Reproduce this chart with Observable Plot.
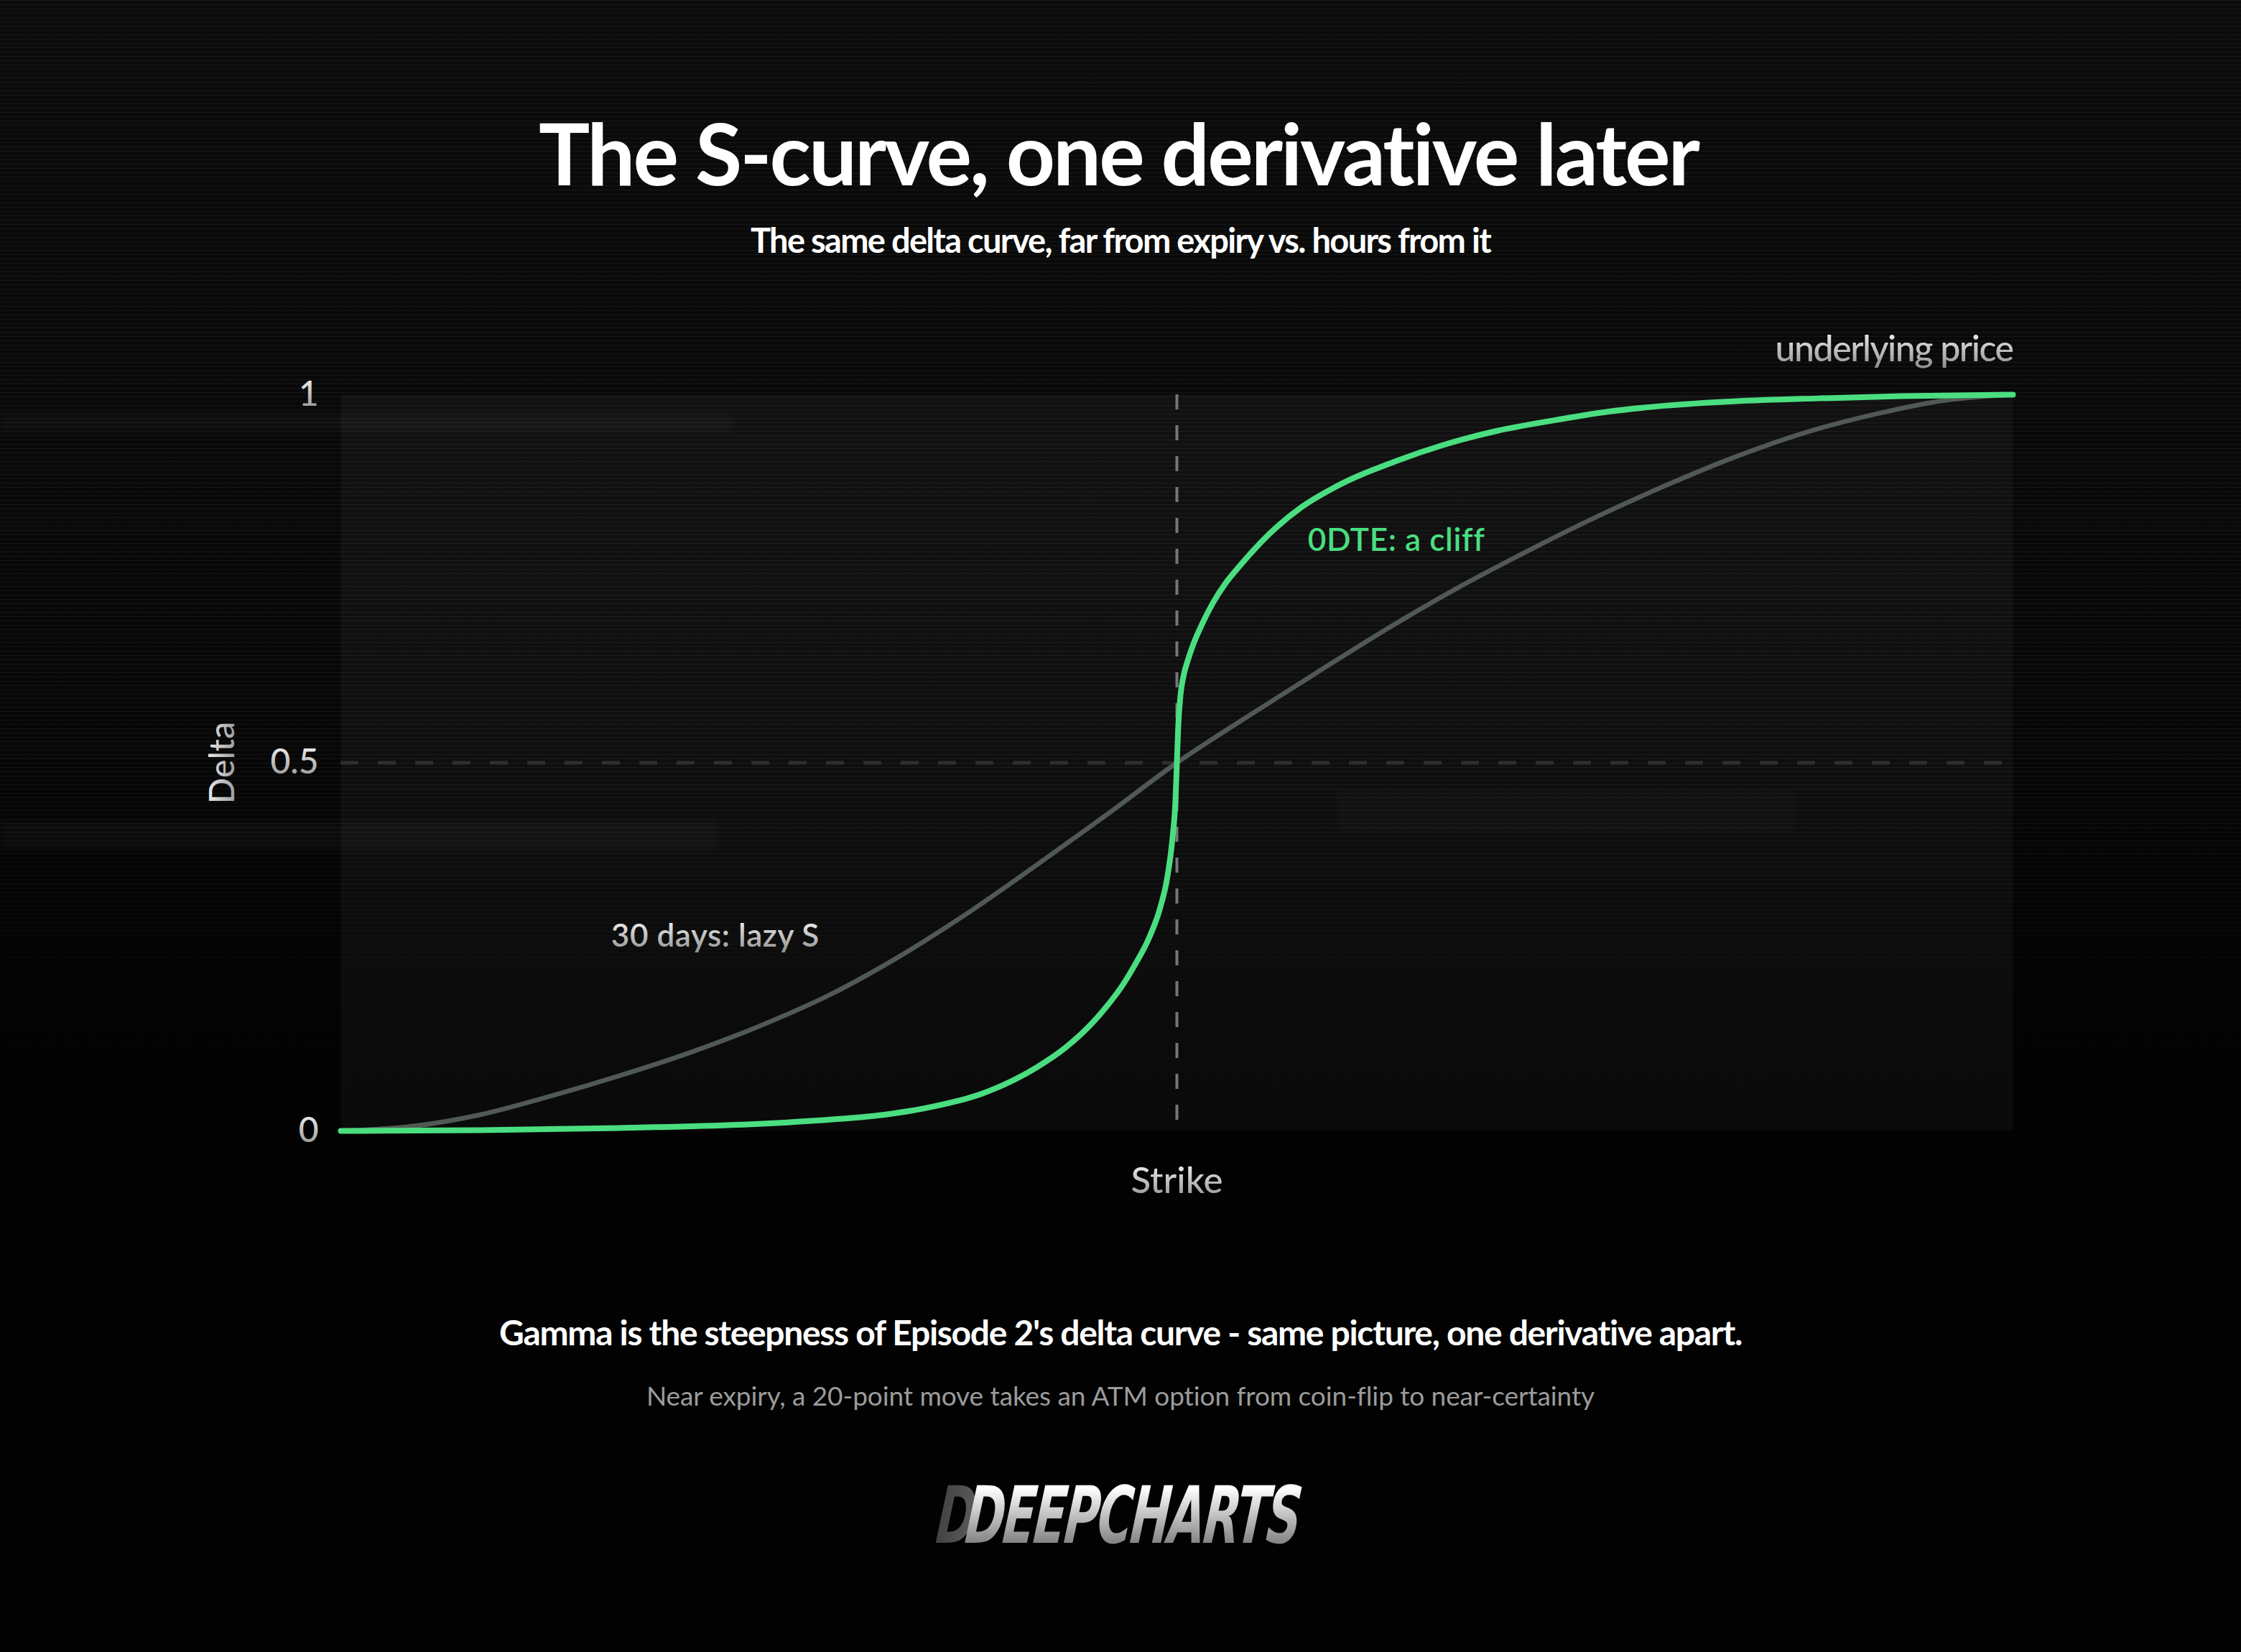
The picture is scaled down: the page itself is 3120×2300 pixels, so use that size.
<!DOCTYPE html>
<html>
<head>
<meta charset="utf-8">
<script src="https://cdn.jsdelivr.net/npm/d3@7"></script>
<script src="https://cdn.jsdelivr.net/npm/@observablehq/plot@0.6"></script>
<style>
html, body { margin:0; padding:0; background:#020202; }
body { width:3120px; height:2300px; position:relative; overflow:hidden; font-family: Lato, "Noto Sans", sans-serif; }
#bgtop { position:absolute; left:0; top:0; width:3120px; height:1600px;
  background: linear-gradient(to bottom, #0b0b0b 0%, #080808 55%, #020202 100%); }
#scan { position:absolute; left:0; top:0; width:3120px; height:1600px;
  background: repeating-linear-gradient(to bottom, rgba(255,255,255,0.055) 0px, rgba(255,255,255,0.055) 1px, rgba(0,0,0,0) 1px, rgba(0,0,0,0) 6px);
  -webkit-mask-image: linear-gradient(to bottom, #000 0%, #000 68%, rgba(0,0,0,0) 92%);
  mask-image: linear-gradient(to bottom, #000 0%, #000 68%, rgba(0,0,0,0) 92%); }
.ghost { position:absolute; filter: blur(5px); background: rgba(255,255,255,0.028); }
#chart { position:absolute; left:0; top:420px; }
.line { position:absolute; white-space:nowrap; display:inline-block; line-height:1; }
.base { display:inline-block; width:0; height:0; vertical-align:baseline; }
</style>
</head>
<body>
<div id="bgtop"></div>
<div id="scan"></div>
<div class="ghost" style="left:0;top:1142px;width:1000px;height:42px;"></div>
<div class="ghost" style="left:0;top:575px;width:1020px;height:26px;"></div>
<div class="ghost" style="left:1860px;top:1100px;width:640px;height:60px;background:rgba(255,255,255,0.018);"></div>
<div id="chart"></div>
<div id="texts"></div>
<script>
// ---------- data ----------
// price relative to the strike (points) and the option delta
const price30 = [-60,-55,-50,-45,-40,-35,-30,-25,-20,-15,-10,-5,0,5,10,15,20,25,30,35,40,45,50,55,60];
const delta30 = [0,0.006,0.022,0.047,0.075,0.106,0.142,0.184,0.236,0.296,0.362,0.43,0.5,0.562,0.622,0.681,0.736,0.786,0.833,0.876,0.915,0.948,0.973,0.992,1];
const price0 = [-60,-50,-40,-32,-26,-21,-17.5,-13.5,-10,-8,-6,-5,-4,-3,-2,-1.2,-0.7,-0.33,-0.1,0,0.1,0.26,0.5,0.8,1.2,1.8,2.55,3.5,4.4,6.7,9,11.3,15.9,19,23,27,31,35,40,46,52,60];
const delta0 = [0,0.001,0.004,0.008,0.014,0.022,0.033,0.054,0.087,0.113,0.148,0.17,0.195,0.226,0.262,0.303,0.343,0.395,0.45,0.5,0.55,0.592,0.62,0.64,0.662,0.688,0.716,0.744,0.765,0.812,0.848,0.874,0.911,0.931,0.951,0.965,0.977,0.985,0.991,0.995,0.998,1];
const deltaTicks = [0, 0.5, 1];
const strikeTick = [0];
const strikeLabel = "Strike";
const yLabel = "Delta";
const xLabel = "underlying price";
const seriesLabels = ["30 days: lazy S", "0DTE: a cliff"];
const seriesLabelPrice = [-40.6, 9.4];
const seriesLabelDelta = [0.264, 0.802];
const titleText = "The S-curve, one derivative later";
const subtitleText = "The same delta curve, far from expiry vs. hours from it";
const captionText = "Gamma is the steepness of Episode 2's delta curve - same picture, one derivative apart.";
const noteText = "Near expiry, a 20-point move takes an ATM option from coin-flip to near-certainty";
const logoText = "DEEPCHARTS";

// ---------- build ----------
const curve30 = price30.map((x, i) => ({x, delta: delta30[i]}));
const curve0 = price0.map((x, i) => ({x, delta: delta0[i]}));
const GREEN = "#4ade80", GRAY = "#515955";

const chart = Plot.plot({
  width: 3120, height: 1300,
  marginLeft: 474, marginRight: 318, marginTop: 129, marginBottom: 146,
  style: {background: "transparent", color: "#e0e0e0", fontFamily: "Lato, 'Noto Sans', sans-serif", overflow: "visible"},
  x: {domain: [-60, 60]},
  y: {domain: [0, 1]},
  marks: [
    Plot.frame({fill: "rgba(255,255,255,0.035)", stroke: "none"}),
    Plot.ruleY([0.5], {stroke: "#2e2e2e", strokeWidth: 5, strokeDasharray: "25,27"}),
    Plot.ruleX(strikeTick, {stroke: "#767676", strokeWidth: 4, strokeDasharray: "21,22"}),
    Plot.line(curve30, {x: "x", y: "delta", stroke: GRAY, strokeWidth: 6.5, curve: "monotone-x"}),
    Plot.line(curve0, {x: "x", y: "delta", stroke: GREEN, strokeWidth: 8, curve: "monotone-x"}),
    Plot.axisY({ticks: deltaTicks, tickSize: 0, tickPadding: 31, fontSize: 48, fontWeight: 500, label: null, fill: "url(#tg)", tickFormat: d => String(d)}),
    Plot.axisX({ticks: strikeTick, tickSize: 0, tickPadding: 50, fontSize: 51, fontWeight: 500, label: null, fill: "url(#tg)", tickFormat: () => strikeLabel}),
    Plot.text([yLabel], {frameAnchor: "left", y: [0.5], text: d => d, dx: -164, rotate: -90, textAnchor: "middle", lineAnchor: "middle", fontSize: 48, fontWeight: 500, fill: "url(#tg)"}),
    Plot.text([xLabel], {x: [60], y: [1], text: d => d, textAnchor: "end", lineAnchor: "bottom", dy: -47, fontSize: 50, fontWeight: 500, fill: "url(#tg)"}),
    Plot.text([seriesLabels[0]], {x: [seriesLabelPrice[0]], y: [seriesLabelDelta[0]], text: d => d, textAnchor: "start", lineAnchor: "middle", fontSize: 44, fontWeight: 600, fill: "url(#tg)"}),
    Plot.text([seriesLabels[1]], {x: [seriesLabelPrice[1]], y: [seriesLabelDelta[1]], text: d => d, textAnchor: "start", lineAnchor: "middle", fontSize: 44, fontWeight: 600, fill: GREEN})
  ]
});
d3.select(chart).insert("defs", ":first-child").html(
  '<linearGradient id="tg" x1="0" y1="0" x2="0" y2="1"><stop offset="0" stop-color="#ffffff"/><stop offset="1" stop-color="#8c8c8c"/></linearGradient>'
);
document.getElementById("chart").appendChild(chart);

// fit svg label widths to the reference
function fitSvg(t, target) {
  t.style.letterSpacing = "0px";
  const w = t.getComputedTextLength();
  const n = t.textContent.length;
  t.style.letterSpacing = ((target - w) / n) + "px";
}
chart.querySelectorAll("text").forEach(t => {
  const s = t.textContent;
  if (s === xLabel) fitSvg(t, 331);
  else if (s === seriesLabels[0]) fitSvg(t, 290);
  else if (s === seriesLabels[1]) fitSvg(t, 245);
});

// ---------- html texts ----------
const holder = document.getElementById("texts");
function addLine(text, cx, base, fs, weight, color, target, minLs) {
  const el = document.createElement("span");
  el.className = "line";
  el.textContent = text;
  const b = document.createElement("i");
  b.className = "base";
  el.appendChild(b);
  el.style.fontSize = fs + "px";
  el.style.fontWeight = weight;
  el.style.color = color;
  el.style.left = "0px"; el.style.top = "0px";
  holder.appendChild(el);
  const n = text.length;
  let w = el.getBoundingClientRect().width;
  let ls = (target - w) / n;
  if (ls < minLs * fs) {
    const lsPx = minLs * fs;
    const nf = fs * target / (w + n * lsPx);
    el.style.fontSize = nf + "px";
    el.style.letterSpacing = "0px";
    w = el.getBoundingClientRect().width;
    ls = (target - w) / n;
  }
  el.style.letterSpacing = ls + "px";
  const r = el.getBoundingClientRect();
  const bb = b.getBoundingClientRect();
  el.style.left = (cx - r.width / 2) + "px";
  el.style.top = (base - (bb.top - r.top)) + "px";
  return el;
}
addLine(titleText, 1557, 258, 119, 700, "#ffffff", 1616, -0.045);
addLine(subtitleText, 1560, 352, 47, 700, "#ffffff", 1030, -0.05);
addLine(captionText, 1560, 1873, 48, 700, "#ffffff", 1731, -0.05);
addLine(noteText, 1560, 1957, 37, 400, "#9b9b9b", 1321, -0.05);

// logo
const logo = document.createElement("div");
logo.style.cssText = "position:absolute;left:0;top:0;white-space:nowrap;line-height:1;font-family:'DejaVu Sans Condensed','DejaVu Sans',sans-serif;font-stretch:condensed;font-weight:bold;font-style:italic;font-size:110px;";
const ic = document.createElement("span");
ic.textContent = "D";
ic.style.cssText = "display:inline-block;background:linear-gradient(to right,#3f4240 0%,#5a5d5b 100%);-webkit-background-clip:text;background-clip:text;color:transparent;";
const lt = document.createElement("span");
lt.textContent = logoText;
lt.style.cssText = "display:inline-block;background:linear-gradient(to bottom,#ffffff 15%,#7a7a7a 90%);-webkit-background-clip:text;background-clip:text;color:transparent;margin-left:-22px;letter-spacing:-4px;";
logo.appendChild(ic); logo.appendChild(lt);
document.body.appendChild(logo);
const lr = logo.getBoundingClientRect();
const sx = 505 / lr.width;
logo.style.transformOrigin = "0 0";
logo.style.transform = "scaleX(" + sx + ") skewX(-8deg)";
logo.style.left = "1310px";
logo.style.top = (2110 - lr.height / 2) + "px";
</script>
</body>
</html>
